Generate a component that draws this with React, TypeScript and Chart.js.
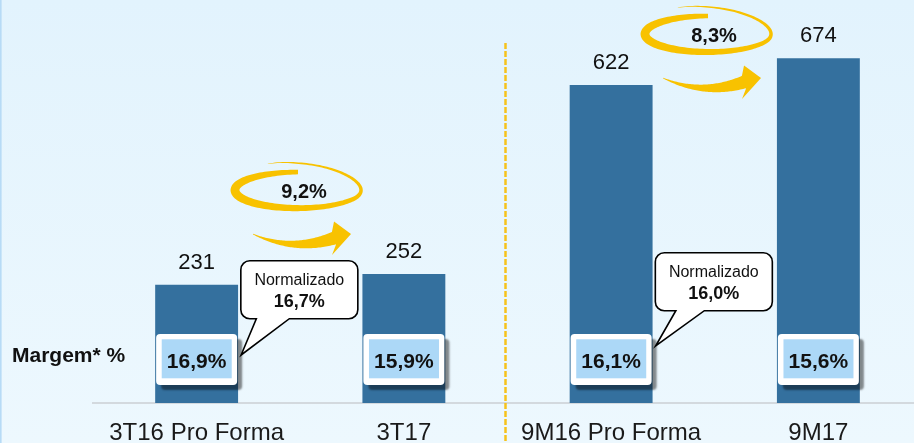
import React, { useEffect, useRef } from "react";
import { Chart, registerables } from "chart.js";
Chart.register(...registerables);

// ---------- data ----------
const categories = ["3T16 Pro Forma", "3T17", "9M16 Pro Forma", "9M17"];
const ebitda = [231, 252, 622, 674];
const margins = ["16,9%", "15,9%", "16,1%", "15,6%"];
const growthLabels = ["9,2%", "8,3%"];
const calloutTitle = "Normalizado";
const calloutValues = ["16,7%", "16,0%"]; // normalised margins for bars 0 and 2
const marginTitle = "Margem* %";

// ---------- layout / style ----------
const FONT = '"Liberation Sans", Arial, Helvetica, sans-serif';
const W = 930;
const H = 443;
const BAR_COLOR = "#34709e";
const YELLOW = "#f8c200";
const TEXT = "#111111";
const swooshLayout = [
  { dx: 101.4, dy: -84 },
  { dx: 96.9, dy: -24.3 },
];
const calloutLayout = [
  { tipDy: 21, top: -94.3, tailA: 15.5, tailB: 48.5 },
  { tipDy: 12, top: -93.3, tailA: 20.5, tailB: 49 },
];

const PI = Math.PI;
const SMAX = 2 * PI + 0.5;
const thickKnots = [
  [0, 4.5],
  [PI / 2, 9],
  [PI, 6],
  [1.5 * PI, 3.5],
  [2 * PI, 1.5],
  [SMAX, 0.3],
];
const ryKnots = [
  [0, 18],
  [1.3 * PI, 18],
  [2 * PI, 27],
  [SMAX, 30],
];

function interp(knots: number[][], s: number) {
  for (let i = 0; i < knots.length - 1; i++) {
    const [s0, v0] = knots[i];
    const [s1, v1] = knots[i + 1];
    if (s <= s1) return v0 + ((v1 - v0) * (s - s0)) / (s1 - s0);
  }
  return knots[knots.length - 1][1];
}

function drawSwoosh(ctx: CanvasRenderingContext2D, cx: number, cy: number, label: string) {
  const rx = 63;
  const outer: number[][] = [];
  const inner: number[][] = [];
  const N = 160;
  for (let i = 0; i <= N; i++) {
    const s = (SMAX * i) / N;
    const th = -PI / 2 - s;
    const ry = interp(ryKnots, s);
    const h = interp(thickKnots, s) / 2;
    const px = cx + rx * Math.cos(th);
    const py = cy + ry * Math.sin(th);
    let nx = Math.cos(th) / rx;
    let ny = Math.sin(th) / ry;
    const l = Math.hypot(nx, ny);
    nx /= l;
    ny /= l;
    outer.push([px + nx * h, py + ny * h]);
    inner.push([px - nx * h, py - ny * h]);
  }
  ctx.beginPath();
  outer.forEach(([x, y], i) => (i ? ctx.lineTo(x, y) : ctx.moveTo(x, y)));
  for (let i = inner.length - 1; i >= 0; i--) ctx.lineTo(inner[i][0], inner[i][1]);
  ctx.closePath();
  ctx.fillStyle = YELLOW;
  ctx.fill();

  // curved arrow
  const P0 = [cx - 45, cy + 44];
  const P1 = [cx - 5, cy + 62];
  const P2 = [cx + 36, cy + 48];
  const up: number[][] = [];
  const lo: number[][] = [];
  const M = 60;
  for (let i = 0; i <= M; i++) {
    const t = i / M;
    const x = (1 - t) * (1 - t) * P0[0] + 2 * (1 - t) * t * P1[0] + t * t * P2[0];
    const y = (1 - t) * (1 - t) * P0[1] + 2 * (1 - t) * t * P1[1] + t * t * P2[1];
    let tx = 2 * (1 - t) * (P1[0] - P0[0]) + 2 * t * (P2[0] - P1[0]);
    let ty = 2 * (1 - t) * (P1[1] - P0[1]) + 2 * t * (P2[1] - P1[1]);
    const l = Math.hypot(tx, ty);
    tx /= l;
    ty /= l;
    const w = (0.6 + 12.4 * t) / 2;
    const nx = ty;
    const ny = -tx;
    up.push([x + nx * w, y + ny * w]);
    lo.push([x - nx * w, y - ny * w]);
  }
  ctx.beginPath();
  up.forEach(([x, y], i) => (i ? ctx.lineTo(x, y) : ctx.moveTo(x, y)));
  ctx.lineTo(cx + 36, cy + 31.5);
  ctx.lineTo(cx + 53, cy + 44);
  ctx.lineTo(cx + 34, cy + 65);
  for (let i = lo.length - 1; i >= 0; i--) ctx.lineTo(lo[i][0], lo[i][1]);
  ctx.closePath();
  ctx.fill();

  ctx.fillStyle = TEXT;
  ctx.font = `bold 20px ${FONT}`;
  ctx.textAlign = "center";
  ctx.textBaseline = "alphabetic";
  ctx.fillText(label, cx + 6, cy + 7.5);
}

function roundRect(ctx: CanvasRenderingContext2D, x: number, y: number, w: number, h: number, r: number) {
  ctx.beginPath();
  ctx.moveTo(x + r, y);
  ctx.lineTo(x + w - r, y);
  ctx.arcTo(x + w, y, x + w, y + r, r);
  ctx.lineTo(x + w, y + h - r);
  ctx.arcTo(x + w, y + h, x + w - r, y + h, r);
  ctx.lineTo(x + r, y + h);
  ctx.arcTo(x, y + h, x, y + h - r, r);
  ctx.lineTo(x, y + r);
  ctx.arcTo(x, y, x + r, y, r);
  ctx.closePath();
}

const decorPlugin = {
  id: "decor",
  beforeDraw(chart: any) {
    const ctx = chart.ctx as CanvasRenderingContext2D;
    ctx.save();
    const g = ctx.createLinearGradient(0, 0, 0, H);
    g.addColorStop(0, "#e2f3fd");
    g.addColorStop(1, "#edf8fe");
    ctx.fillStyle = g;
    ctx.fillRect(0, 0, chart.width, chart.height);
    ctx.fillStyle = "#b7dbf6";
    ctx.fillRect(0, 0, 1.6, chart.height);
    ctx.restore();
  },
  afterDatasetsDraw(chart: any) {
    const ctx = chart.ctx as CanvasRenderingContext2D;
    const bars = chart.getDatasetMeta(0).data;
    const area = chart.chartArea;
    ctx.save();

    // dashed separator
    const sepX = (bars[1].x + bars[2].x) / 2 - 2;
    ctx.strokeStyle = "#f6c21c";
    ctx.lineWidth = 2.5;
    ctx.setLineDash([6, 2]);
    ctx.beginPath();
    ctx.moveTo(sepX, 43);
    ctx.lineTo(sepX, H);
    ctx.stroke();
    ctx.setLineDash([]);

    // value labels
    ctx.fillStyle = TEXT;
    ctx.font = `22px ${FONT}`;
    ctx.textAlign = "center";
    ctx.textBaseline = "alphabetic";
    bars.forEach((b: any, i: number) => {
      ctx.fillText(String(ebitda[i]), b.x, b.y - 16);
    });

    // margin title
    ctx.font = `bold 21px ${FONT}`;
    ctx.textAlign = "left";
    ctx.fillText(marginTitle, 12, 362);

    // margin boxes
    const boxTop = area.bottom - 69;
    const boxH = 51;
    bars.forEach((b: any, i: number) => {
      const left = b.x - 40.5;
      ctx.save();
      ctx.shadowColor = "rgba(0,0,0,0.45)";
      ctx.shadowOffsetX = 5;
      ctx.shadowOffsetY = 5;
      ctx.shadowBlur = 2;
      ctx.fillStyle = "#ffffff";
      roundRect(ctx, left, boxTop, 81, boxH, 4);
      ctx.fill();
      ctx.restore();
      ctx.fillStyle = "#acd8f7";
      ctx.fillRect(left + 5.6, boxTop + 5.3, 70, 39);
      ctx.fillStyle = TEXT;
      ctx.font = `bold 21px ${FONT}`;
      ctx.textAlign = "center";
      ctx.fillText(margins[i], b.x, boxTop + 33.5);
    });

    // callouts
    calloutValues.forEach((val, k) => {
      const b = bars[k * 2];
      const L = calloutLayout[k];
      const tipX = b.x + 40.5 + 4;
      const tipY = boxTop + L.tipDy;
      const left = tipX - 0.3;
      const top = tipY + L.top;
      const w = 117;
      const h = 58;
      const r = 9;
      const bottom = top + h;
      const right = left + w;
      ctx.beginPath();
      ctx.moveTo(left + r, top);
      ctx.lineTo(right - r, top);
      ctx.arcTo(right, top, right, top + r, r);
      ctx.lineTo(right, bottom - r);
      ctx.arcTo(right, bottom, right - r, bottom, r);
      ctx.lineTo(left + L.tailB, bottom);
      ctx.lineTo(tipX, tipY);
      ctx.lineTo(left + L.tailA, bottom);
      ctx.lineTo(left + r, bottom);
      ctx.arcTo(left, bottom, left, bottom - r, r);
      ctx.lineTo(left, top + r);
      ctx.arcTo(left, top, left + r, top, r);
      ctx.closePath();
      ctx.fillStyle = "#ffffff";
      ctx.fill();
      ctx.strokeStyle = "#000000";
      ctx.lineWidth = 1.6;
      ctx.lineJoin = "miter";
      ctx.stroke();
      ctx.fillStyle = TEXT;
      ctx.textAlign = "center";
      ctx.font = `16px ${FONT}`;
      ctx.fillText(calloutTitle, left + w / 2, top + 24.3);
      ctx.font = `bold 18px ${FONT}`;
      ctx.fillText(val, left + w / 2, top + 46);
    });

    // growth swooshes
    growthLabels.forEach((lab, p) => {
      const s = swooshLayout[p];
      const cx = bars[p * 2].x + s.dx;
      const cy = bars[p * 2 + 1].y + s.dy;
      drawSwoosh(ctx, cx, cy, lab);
    });

    ctx.restore();
  },
};

export default function App() {
  const ref = useRef<HTMLCanvasElement>(null);
  useEffect(() => {
    const chart = new Chart(ref.current as HTMLCanvasElement, {
      type: "bar",
      data: {
        labels: categories,
        datasets: [
          {
            data: ebitda,
            backgroundColor: BAR_COLOR,
            borderWidth: 0,
            barPercentage: 0.4,
            categoryPercentage: 1,
          },
        ],
      },
      options: {
        responsive: false,
        animation: false,
        layout: { padding: { left: 93, right: 8, top: 0, bottom: 0 } },
        plugins: { legend: { display: false }, tooltip: { enabled: false } },
        scales: {
          x: {
            grid: { display: false, drawTicks: false },
            border: { display: true, color: "#d3d9de", width: 2 },
            ticks: {
              font: { family: FONT, size: 24 },
              color: "#1a1a1a",
              padding: 16,
              maxRotation: 0,
              autoSkip: false,
            },
            afterFit: (s: any) => {
              s.height = 40;
            },
          },
          y: { display: false, min: 0, max: 788 },
        },
      },
      plugins: [decorPlugin],
    } as any);
    return () => chart.destroy();
  }, []);
  return (
    <div style={{ position: "fixed", left: 0, top: 0, width: 914, height: 443, overflow: "hidden" }}>
      <canvas ref={ref} width={W} height={H} style={{ width: W, height: H, display: "block" }} />
    </div>
  );
}
